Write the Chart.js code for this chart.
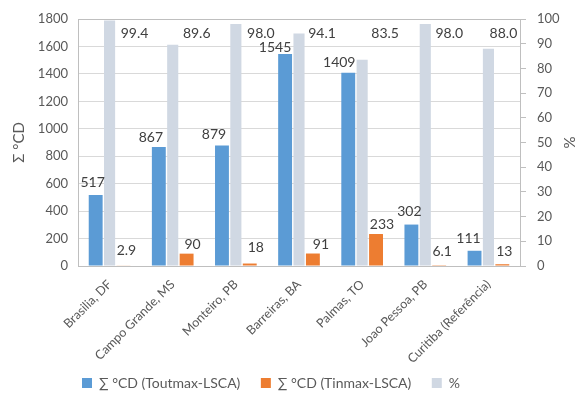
<!DOCTYPE html>
<html>
<head>
<meta charset="utf-8">
<script src="https://cdn.jsdelivr.net/npm/chart.js@4/dist/chart.umd.min.js"></script>
<style>
  html, body { margin: 0; padding: 0; background: #ffffff; }
  #wrap { width: 578px; height: 399px; }
</style>
</head>
<body>
<div id="wrap"><canvas id="chart" width="578" height="399"></canvas></div>
<script>
// Cities, degree-hour sums and percentage of hours
const categories = ['Brasilia, DF', 'Campo Grande, MS', 'Monteiro, PB', 'Barreiras, BA', 'Palmas, TO', 'Joao Pessoa, PB', 'Curitiba (Referência)'];
const toutmaxCD = [517, 867, 879, 1545, 1409, 302, 111];
const tinmaxCD = [2.9, 90, 18, 91, 233, 6.1, 13];
const percentHours = [99.4, 89.6, 98.0, 94.1, 83.5, 98.0, 88.0];

// Axis ranges
const leftAxis = { min: 0, max: 1800, step: 200 };
const rightAxis = { min: 0, max: 100, step: 10 };

const FONT = 'Lato, "Open Sans", sans-serif';
const TEXT = '#595959';
const LABEL = '#404040';

// Hand-placed label offsets (px) so value labels don't collide
const labelNudge = {
  blue:   { dx: [-3, -8, -8, -10, -9, -2, -6], dy: [-13, -10, -11, -7, -10, -13, -12] },
  orange: { dx: [3, 6, 6, 8, 6, 3, 2],          dy: [-15, -9, -16, -9, -10, -14, -13] },
  gray:   { dx: [25, 24, 25, 23, 23, 24, 15] }
};

const valueLabels = {
  id: 'valueLabels',
  afterDatasetsDraw(chart) {
    const ctx = chart.ctx;
    const area = chart.chartArea;
    ctx.save();
    ctx.font = '14px ' + FONT;
    ctx.fillStyle = LABEL;
    ctx.textAlign = 'center';
    ctx.textBaseline = 'middle';
    chart.data.datasets.forEach((ds, di) => {
      const meta = chart.getDatasetMeta(di);
      meta.data.forEach((bar, i) => {
        const v = ds.data[i];
        let x, y, txt;
        if (ds.key === 'gray') {
          txt = v.toFixed(1);
          x = bar.x + labelNudge.gray.dx[i];
          y = area.top + 14;
        } else {
          txt = String(v);
          const n = labelNudge[ds.key];
          x = bar.x + n.dx[i];
          y = bar.y + n.dy[i];
        }
        ctx.fillText(txt, x, y);
      });
    });
    ctx.restore();
  }
};

// Grey frame round the plot area
const plotFrame = {
  id: 'plotFrame',
  afterDraw(chart) {
    const a = chart.chartArea;
    const ctx = chart.ctx;
    ctx.save();
    ctx.strokeStyle = '#BFBFBF';
    ctx.lineWidth = 1;
    ctx.strokeRect(Math.round(a.left) + 0.5, Math.round(a.top) + 0.5,
                   Math.round(a.right - a.left), Math.round(a.bottom - a.top));
    ctx.restore();
  }
};

// Nudge the legend row left and down
const legendShift = {
  id: 'legendShift',
  afterLayout(chart) {
    const lg = chart.legend;
    if (lg) { lg.left -= 23; lg.right -= 23; lg.top += 2; lg.bottom += 2; }
  }
};

const legendRank = { blue: 0, orange: 1, gray: 2 };
const GAP = '\u2003';

new Chart(document.getElementById('chart'), {
  type: 'bar',
  data: {
    labels: categories,
    datasets: [
      { key: 'blue', label: '∑ °CD (Toutmax-LSCA)', data: toutmaxCD, backgroundColor: '#5B9BD5',
        yAxisID: 'y', barPercentage: 1.0, categoryPercentage: 0.66 },
      { key: 'gray', label: '%', data: percentHours, backgroundColor: '#D0D8E3',
        yAxisID: 'y1', barPercentage: 0.8, categoryPercentage: 0.66 },
      { key: 'orange', label: '∑ °CD (Tinmax-LSCA)', data: tinmaxCD, backgroundColor: '#ED7D31',
        yAxisID: 'y', barPercentage: 1.0, categoryPercentage: 0.66 }
    ]
  },
  options: {
    responsive: false,
    animation: false,
    devicePixelRatio: 1,
    layout: { padding: { top: 19, left: 10, right: 0, bottom: 1 } },
    plugins: {
      tooltip: { enabled: false },
      legend: {
        position: 'bottom',
        labels: {
          boxWidth: 10, boxHeight: 10, padding: 10,
          color: TEXT, font: { family: FONT, size: 14 },
          sort: (a, b) => legendRank[a.key || ''] - legendRank[b.key || ''],
          generateLabels(chart) {
            const items = Chart.defaults.plugins.legend.labels.generateLabels(chart);
            items.forEach(it => {
              it.key = chart.data.datasets[it.datasetIndex].key;
              it.lineWidth = 0;
              if (it.key !== 'gray') it.text = it.text + GAP;
            });
            return items;
          }
        }
      }
    },
    scales: {
      x: {
        grid: { display: false },
        border: { color: '#BFBFBF' },
        ticks: { color: TEXT, font: { family: FONT, size: 12.5 }, minRotation: 45, maxRotation: 45, padding: 3 },
        afterFit(s) { s.height = 98; }
      },
      y: {
        position: 'left',
        min: leftAxis.min, max: leftAxis.max,
        grid: { color: '#D9D9D9', drawTicks: false },
        border: { color: '#BFBFBF' },
        ticks: { stepSize: leftAxis.step, color: TEXT, font: { family: FONT, size: 13 }, padding: 10,
                 callback: v => String(v) },
        title: { display: true, text: 'Σ °CD', color: TEXT, font: { family: FONT, size: 15 }, padding: { top: 0, bottom: 4 } },
        afterFit(s) { s.width = 68; }
      },
      y1: {
        position: 'right',
        min: rightAxis.min, max: rightAxis.max,
        grid: { drawOnChartArea: false, color: '#BFBFBF', tickLength: 6 },
        border: { color: '#BFBFBF' },
        ticks: { stepSize: rightAxis.step, color: TEXT, font: { family: FONT, size: 13 }, padding: 11,
                 callback: v => String(v) },
        title: { display: true, text: '%', color: TEXT, font: { family: FONT, size: 15 }, padding: { top: 0, bottom: 2 } },
        afterFit(s) { s.width = 58; }
      }
    }
  },
  plugins: [valueLabels, plotFrame, legendShift]
});
</script>
</body>
</html>
